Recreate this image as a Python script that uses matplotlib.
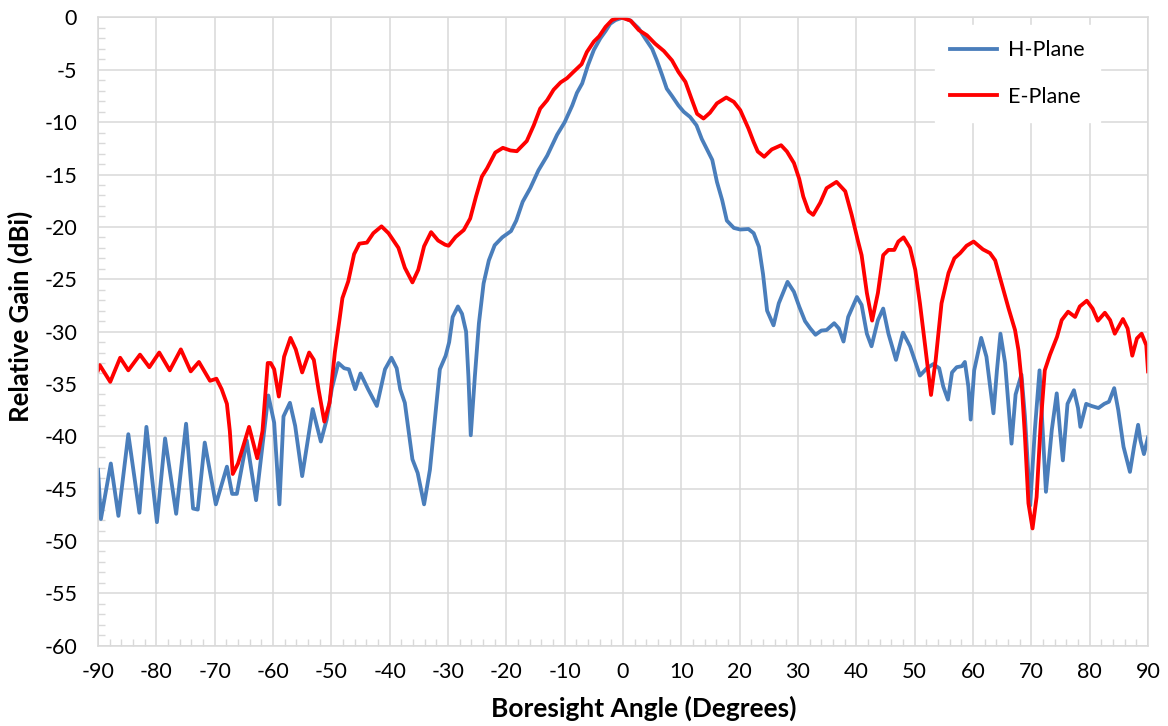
import matplotlib.pyplot as plt
from matplotlib.ticker import MultipleLocator

plt.rcParams['font.family'] = ['Lato', 'DejaVu Sans']
plt.rcParams['axes.unicode_minus'] = False

# H-plane trace (blue), angle in degrees / relative gain in dBi
h_deg = [-90.0, -89.5, -87.8, -86.5, -84.8, -82.9, -81.7, -79.9, -78.5, -76.6,
         -74.9, -73.7, -72.9, -71.7, -69.8, -67.9, -67.0, -66.2, -64.5, -62.9,
         -60.8, -59.8, -58.9, -58.2, -57.1, -56.2, -55.0, -53.2, -51.8, -50.8,
         -49.9, -48.8, -47.8, -47.0, -45.9, -45.0, -43.7, -42.2, -40.8, -39.7,
         -38.8, -38.2, -37.4, -36.1, -35.2, -34.1, -33.1, -32.2, -31.4, -30.4,
         -29.8, -29.2, -28.3, -27.6, -26.9, -26.5, -26.1, -25.4, -24.7, -23.9,
         -23.0, -22.0, -20.7, -19.2, -18.3, -17.2, -15.9, -14.5, -13.0, -11.3,
         -10.0, -8.7, -7.9, -7.0, -6.0, -5.0, -3.9, -3.0, -2.2, -1.3,
         0.0, 1.3, 2.7, 3.8, 5.0, 5.8, 6.7, 7.5, 8.4, 9.5,
         10.4, 11.5, 12.6, 13.5, 14.5, 15.3, 16.1, 17.0, 17.8, 19.0,
         20.1, 21.5, 22.4, 23.3, 24.0, 24.7, 25.8, 26.7, 28.2, 29.3,
         30.2, 31.2, 32.1, 33.0, 34.0, 34.9, 36.2, 37.0, 37.8, 38.6,
         40.1, 40.9, 41.8, 42.6, 43.7, 44.6, 45.5, 46.8, 48.0, 49.2,
         50.1, 50.9, 52.1, 53.2, 54.2, 54.9, 55.7, 56.4, 57.2, 58.1,
         58.6, 59.2, 59.6, 60.2, 61.4, 62.3, 63.5, 64.1, 64.7, 65.5,
         66.6, 67.3, 68.3, 68.9, 69.8, 70.6, 71.4, 72.1, 72.5, 73.5,
         74.35, 74.9, 75.4, 76.2, 77.3, 78.0, 78.4, 79.4, 80.3, 81.5,
         82.5, 83.3, 84.2, 84.9, 85.8, 86.9, 87.6, 88.3, 88.7, 89.3,
         90.0]
h_gain = [-43.2, -47.9, -42.6, -47.6, -39.8, -47.3, -39.1, -48.2, -40.2, -47.4,
          -38.8, -46.9, -47.0, -40.6, -46.5, -42.9, -45.5, -45.5, -40.4, -46.1,
          -36.1, -38.7, -46.5, -38.1, -36.8, -39.0, -43.8, -37.4, -40.5, -38.4,
          -35.4, -33.0, -33.5, -33.6, -35.5, -34.0, -35.5, -37.1, -33.6, -32.5,
          -33.5, -35.5, -36.8, -42.2, -43.5, -46.5, -43.2, -38.1, -33.6, -32.3,
          -31.0, -28.6, -27.6, -28.3, -30.0, -34.3, -39.9, -34.3, -29.2, -25.4,
          -23.2, -21.75, -21.0, -20.4, -19.4, -17.6, -16.3, -14.6, -13.2, -11.2,
          -10.0, -8.4, -7.2, -6.3, -4.55, -3.1, -2.0, -1.3, -0.6, -0.25,
          0.0, -0.3, -1.05, -2.0, -3.0, -4.1, -5.5, -6.8, -7.5, -8.4,
          -9.0, -9.5, -10.3, -11.6, -12.7, -13.6, -15.7, -17.45, -19.4, -20.1,
          -20.25, -20.2, -20.6, -21.9, -24.5, -28.0, -29.4, -27.3, -25.25, -26.2,
          -27.6, -29.0, -29.7, -30.3, -29.9, -29.85, -29.2, -29.7, -30.95, -28.6,
          -26.7, -27.45, -30.2, -31.4, -28.9, -27.8, -30.2, -32.7, -30.1, -31.4,
          -32.9, -34.2, -33.5, -33.1, -33.5, -35.25, -36.5, -33.9, -33.4, -33.3,
          -32.9, -35.25, -38.4, -33.7, -30.6, -32.4, -37.8, -33.7, -30.2, -33.0,
          -40.7, -36.0, -34.1, -38.1, -46.6, -39.4, -33.7, -41.0, -45.3, -39.4,
          -35.9, -39.4, -42.3, -36.9, -35.6, -37.3, -39.1, -36.9, -37.1, -37.3,
          -36.9, -36.7, -35.4, -37.5, -41.0, -43.4, -41.0, -38.9, -40.4, -41.7,
          -40.1]

# E-plane trace (red)
e_deg = [-90.0, -89.7, -87.9, -86.2, -84.8, -82.8, -81.2, -79.5, -77.7, -75.8,
         -74.1, -72.7, -70.8, -69.7, -68.8, -67.9, -67.4, -66.9, -66.0, -64.1,
         -62.7, -61.8, -60.9, -60.4, -59.8, -59.0, -58.1, -57.0, -56.1, -55.0,
         -53.8, -53.0, -52.2, -51.2, -50.3, -49.4, -48.6, -48.1, -47.1, -46.1,
         -45.2, -43.9, -42.8, -41.4, -40.2, -38.5, -37.4, -36.1, -35.1, -34.1,
         -32.9, -31.7, -30.5, -29.9, -28.7, -27.3, -26.2, -25.2, -24.2, -23.3,
         -21.9, -20.6, -19.3, -18.2, -16.5, -15.3, -14.2, -13.0, -11.9, -10.7,
         -9.6, -8.5, -7.1, -6.2, -5.0, -4.1, -3.0, -1.9, -0.7, 0.0,
         1.3, 2.7, 4.1, 5.5, 7.0, 8.4, 9.5, 10.7, 11.7, 12.7,
         13.8, 14.9, 16.1, 17.7, 19.0, 20.1, 21.5, 22.4, 23.1, 24.2,
         25.5, 27.1, 28.1, 29.3, 30.2, 30.9, 31.8, 32.6, 33.8, 34.9,
         36.6, 38.1, 39.2, 40.3, 40.9, 41.8, 42.7, 43.7, 44.6, 45.5,
         46.5, 47.2, 48.1, 49.2, 50.1, 50.9, 51.8, 52.8, 53.6, 54.6,
         55.8, 56.8, 57.8, 58.9, 60.1, 61.7, 62.9, 63.8, 64.9, 66.1,
         67.2, 67.8, 68.3, 68.9, 69.5, 70.2, 70.9, 71.6, 72.3, 73.2,
         74.4, 75.2, 76.3, 77.5, 78.3, 79.5, 80.5, 81.4, 82.6, 83.5,
         84.3, 85.7, 86.5, 87.3, 88.1, 88.9, 89.7, 90.0]
e_gain = [-33.7, -33.2, -34.8, -32.5, -33.7, -32.2, -33.4, -32.0, -33.7, -31.7,
          -33.8, -32.9, -34.7, -34.5, -35.5, -36.9, -39.5, -43.6, -42.6, -39.1,
          -42.1, -39.5, -33.0, -33.0, -33.6, -36.2, -32.4, -30.6, -31.7, -33.9,
          -32.0, -32.7, -35.5, -38.6, -36.8, -32.0, -28.85, -26.8, -25.2, -22.6,
          -21.6, -21.5, -20.6, -19.95, -20.6, -22.0, -23.9, -25.3, -24.1, -21.85,
          -20.5, -21.3, -21.7, -21.8, -20.96, -20.3, -19.2, -17.1, -15.2, -14.4,
          -12.9, -12.45, -12.7, -12.77, -11.8, -10.3, -8.7, -7.9, -6.9, -6.2,
          -5.8, -5.2, -4.46, -3.3, -2.3, -1.8, -0.9, -0.25, 0.0, -0.05,
          -0.3, -1.2, -1.7, -2.5, -3.2, -4.1, -5.2, -6.15, -7.7, -9.2,
          -9.65, -9.1, -8.2, -7.64, -8.06, -8.85, -10.6, -11.9, -12.8, -13.3,
          -12.6, -12.2, -12.8, -13.9, -15.4, -17.1, -18.5, -18.85, -17.7, -16.3,
          -15.7, -16.6, -18.85, -21.4, -22.7, -26.3, -28.95, -26.3, -22.7, -22.2,
          -22.2, -21.4, -21.0, -22.0, -24.1, -27.3, -31.4, -36.05, -32.7, -27.3,
          -24.4, -23.0, -22.5, -21.8, -21.4, -22.15, -22.5, -23.2, -25.4, -27.8,
          -29.85, -31.8, -34.6, -40.0, -46.4, -48.8, -45.8, -38.8, -33.7, -32.2,
          -30.5, -28.9, -28.1, -28.6, -27.6, -27.05, -27.8, -28.96, -28.2, -28.9,
          -30.2, -28.8, -29.7, -32.3, -30.65, -30.2, -31.3, -33.8]

fig = plt.figure(figsize=(11.68, 7.26), dpi=100)
ax = fig.add_axes([0.0839, 0.1106, 0.8990, 0.8653])

gridc = '#d9d9d9'
ax.plot(h_deg, h_gain, color='#4a7ebb', lw=2.75, solid_joinstyle='round', label='H-Plane')
ax.plot(e_deg, e_gain, color='#ff0000', lw=2.75, solid_joinstyle='round', label='E-Plane')

ax.set_xlim(-90, 90)
ax.set_ylim(-60, 0)
ax.xaxis.set_major_locator(MultipleLocator(10))
ax.xaxis.set_minor_locator(MultipleLocator(2))
ax.yaxis.set_major_locator(MultipleLocator(5))
ax.yaxis.set_minor_locator(MultipleLocator(1))
ax.grid(True, which='major', color=gridc, lw=1.1)
ax.set_axisbelow(True)
for s in ax.spines.values():
    s.set_color(gridc)
    s.set_linewidth(1.1)
ax.tick_params(which='major', length=0, labelsize=15.5, colors='black')
ax.tick_params(axis='x', which='major', pad=12)
ax.tick_params(axis='y', which='major', pad=15)
ax.tick_params(which='minor', direction='in', length=5, width=1, color=gridc)
ax.tick_params(which='minor', top=False, right=False)

ax.set_xlabel('Boresight Angle (Degrees)', fontsize=19, fontweight='bold')
ax.set_ylabel('Relative Gain (dBi)', fontsize=18.5, fontweight='bold')
# Excel placed both titles a bit off-centre
ax.xaxis.set_label_coords(0.52, -0.079)
ax.yaxis.set_label_coords(-0.062, 0.525)

leg = ax.legend(loc='upper left', bbox_to_anchor=(0.797, 0.988), fontsize=15.5,
                frameon=True, facecolor='white', edgecolor='white', framealpha=1,
                fancybox=False, handlelength=2.2, labelspacing=1.25,
                borderpad=0.7, handletextpad=0.5, borderaxespad=0)

fig.savefig('out.png', dpi=100)
